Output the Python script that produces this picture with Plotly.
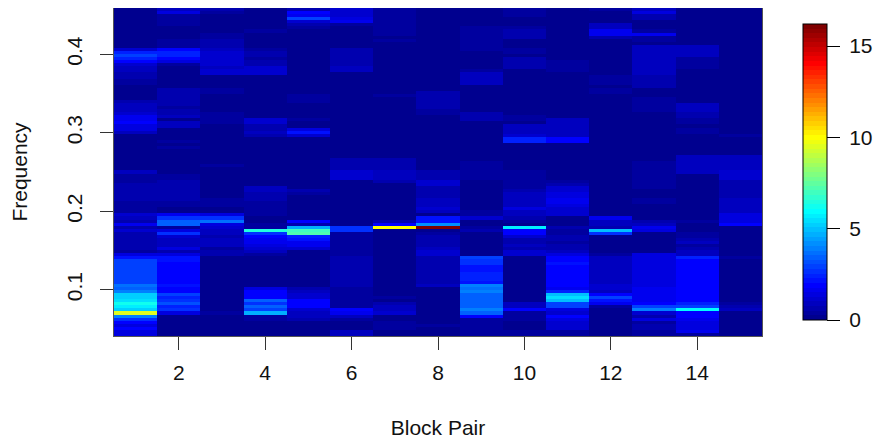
import plotly.graph_objects as go

block_pairs = list(range(1, 16))
freq_bins = list(range(11, 118))
x_ticks = [2, 4, 6, 8, 10, 12, 14]
y_ticks = [0.1, 0.2, 0.3, 0.4]
bar_ticks = [0, 5, 10, 15]
bar_max = 16.2

tim_colors = ["#00008F","#00009F","#0000AF","#0000BF","#0000CF","#0000DF","#0000EF","#0000FF",
"#0010FF","#0020FF","#0030FF","#0040FF","#0050FF","#0060FF","#0070FF","#0080FF",
"#008FFF","#009FFF","#00AFFF","#00BFFF","#00CFFF","#00DFFF","#00EFFF","#00FFFF",
"#10FFEF","#20FFDF","#30FFCF","#40FFBF","#50FFAF","#60FF9F","#70FF8F","#80FF80",
"#8FFF70","#9FFF60","#AFFF50","#BFFF40","#CFFF30","#DFFF20","#EFFF10","#FFFF00",
"#FFEF00","#FFDF00","#FFCF00","#FFBF00","#FFAF00","#FF9F00","#FF8F00","#FF8000",
"#FF7000","#FF6000","#FF5000","#FF4000","#FF3000","#FF2000","#FF1000","#FF0000",
"#EF0000","#DF0000","#CF0000","#BF0000","#AF0000","#9F0000","#8F0000","#800000"]

# "low" lists run upward from the lowest frequency; "high" lists run downward from the highest.
col01_low = [1.3,1.3,1.9,1.4,1.9,2.7,3.8,9.6,5.2,5.8,
             6.2,5.5,5.2,5.2,4.0,3.5,3.7,3.0,3.0,3.0,
             3.0,3.0,3.0,3.0,3.0,2.2,1.3,.4,.6,.6,
             .6,.6,.6,.6,1.2,.6,1.7,.6,.9,1.1,
             .4,.3,.3,.3,.6,.6,.6,.6,.6,.6,
             .4,.4,.4,.9]
col01_high = [.13,.13,.13,.13,.13,.13,.13,.13,.13,.13,
              .13,.13,.2,1.2,2.4,2.9,2.4,1.8,1.2,.9,
              .8,.6,.6,.5,.5,.2,.2,.2,.2,.2,
              .6,.9,.9,.9,1.1,1.6,1.6,1.9,1.3,1.3,
              .9,.2,.2,.2,.2,.2,.2,.2,.2,.2,
              .2,.2,.2]
col02_low = [.13,.13,.13,.13,.13,.13,.13,1.4,2.7,2.4,
             3.1,2.7,2.4,2.9,1.9,1.9,2.1,1.9,1.9,1.9,
             1.9,1.9,1.9,1.9,2.1,2.1,1.4,.6,1.4,.9,
             .9,.9,1.1,2.6,1.4,.4,3.5,3.5,2.7,1.7,
             .13,.13,.3,.3,.7,.7,.7,.7,.7,.6,
             .6,.4,.4,.13]
col02_high = [.9,1.3,.3,.4,.4,.4,.13,.13,.13,.13,
              .5,.5,.5,2.0,2.4,2.4,1.9,1.4,.38,.2,
              .2,.2,.2,.2,.2,.2,.7,.7,.7,.6,
              .6,.6,.4,.7,.7,.8,.13,.8,.8,.13,
              .13,.13,.13,.4,.13,.4,.13,.13,.13,.13,
              .13,.13,.13]
col03_low = [.13,.13,.13,.13,.13,.13,.13,.5,.13,.13,
             .13,.13,.13,.13,.13,.13,.13,.13,.13,.13,
             .13,.13,.13,.13,.13,.13,.6,.7,.5,.9,
             .9,.9,.6,.9,.9,1.2,1.5,3.7,2.6,1.3,
             .2,.13,.3,.3,.3,.13,.13,.13,.13,.13,
             .13,.13,.13,.13]
col03_high = [.6,.4,.13,.13,.13,.13,.13,.13,.5,.5,
              .6,.6,.6,.8,1.1,1.1,1.1,1.1,1.1,1.0,
              1.2,1.2,.13,.13,.13,.13,.5,.5,.13,.13,
              .13,.13,.13,.13,.4,.4,.4,.4,.13,.13,
              .13,.13,.13,.13,.13,.13,.13,.13,.13,.13,
              .13,.3,.13]
col04_low = [.13,.13,.13,.13,.13,.4,.4,4.6,3.0,3.4,
             2.7,3.5,1.9,1.9,1.8,1.4,.13,.13,.13,.13,
             .13,.13,.13,.13,.13,.13,.4,.9,1.1,1.5,
             1.7,1.7,1.9,2.7,6.5,.4,.4,.13,.13,.5,
             .5,.5,.5,.3,.6,.6,.6,.9,.9,.13,
             .13,.13,.13,.13]
col04_high = [.13,.13,.13,.13,.13,.13,.13,.3,.13,.13,
              .13,.13,.13,.3,.6,.6,.4,.7,.7,1.2,
              1.2,1.2,.13,.13,.13,.13,.13,.13,.13,.13,
              .13,.13,.13,.13,.13,.13,1.1,1.1,.7,.7,
              .9,.7,.13,.13,.13,.13,.13,.13,.13,.13,
              .13,.13,.13]
col05_low = [.13,.13,.13,.13,.13,.6,.9,.9,1.2,1.9,
             2.0,1.9,1.2,1.2,1.0,.6,.13,.13,.13,.13,
             .13,.13,.13,.13,.13,.13,.13,.2,1.2,1.6,
             1.7,2.1,2.4,7.3,7.0,4.7,.6,1.9,.13,.13,
             .13,.13,.13,.13,.13,.13,.4,.6,.13,.13,
             .13,.13,.13,.13]
col05_high = [.6,1.9,1.6,2.9,1.2,.7,.4,.13,.13,.13,
              .13,.13,.13,.13,.13,.13,.13,.13,.13,.13,
              .13,.13,.13,.13,.13,.13,.13,.13,.4,.4,
              .4,.13,.13,.13,.13,.13,.3,.13,.13,1.3,
              2.2,1.2,.13,.13,.13,.13,.13,.13,.13,.13,
              .13,.13,.13]
col06_low = [.9,.9,.2,.2,.2,.4,.9,1.6,2.0,.3,
             .5,.5,.5,.5,.5,.3,.6,.6,.6,.6,
             .6,.6,.6,.6,.6,.6,.5,.5,.5,.5,
             .5,.5,.5,.5,2.7,2.7,.13,.13,.13,.13,
             .13,.13,.13,.13,.13,.13,.13,.13,.13,.13,
             .13,1.1,1.1,1.1]
col06_high = [1.2,1.2,1.1,1.4,1.6,.3,.13,.13,.13,.13,
              .13,.13,.13,.6,.6,.6,.6,.6,.6,.8,
              .8,.13,.13,.13,.13,.13,.13,.13,.13,.13,
              .13,.13,.13,.13,.13,.13,.13,.13,.13,.13,
              .13,.13,.13,.13,.13,.13,.13,.13,.13,.7,
              .7,.6,.6]
col07_low = [.13,.2,.4,.5,.5,.13,.2,1.2,.9,.9,
             .6,.13,.3,.13,.2,.2,.2,.2,.2,.2,
             .2,.2,.2,.2,.2,.2,.2,.2,.13,.13,
             .13,.13,.13,.13,.13,10.0,1.9,.7,.13,.13,
             .13,.13,.13,.13,.13,.13,.13,.13,.13,.13,
             .7,.8,.8,.9]
col07_high = [.4,.4,.4,.4,.4,.4,.5,.5,.5,.13,
              .38,.13,.13,.13,.13,.13,.13,.13,.13,.13,
              .13,.13,.13,.13,.13,.13,.13,.13,.38,.13,
              .13,.13,.13,.13,.13,.13,.13,.13,.13,.13,
              .13,.13,.13,.13,.13,.13,.13,.13,.13,.7,
              .7,.7,.7]
col08_low = [.13,.13,.13,.3,.13,.13,.13,.13,.13,.13,
             .13,.13,.13,.13,.13,.13,1.0,.7,.7,.7,
             .7,.7,.7,.7,.7,.7,1.1,1.1,.9,.6,
             .6,.6,.6,.3,.13,16.1,4.3,2.2,2.2,.13,
             .9,1.1,.9,.9,.9,.6,.6,.6,.6,1.2,
             1.2,.6,.6,.6]
col08_high = [.13,.13,.13,.13,.13,.13,.13,.13,.13,.13,
              .13,.13,.13,.13,.13,.13,.13,.13,.13,.13,
              .13,.13,.13,.13,.13,.13,.13,.7,.7,.7,
              .6,.6,.6,.5,.4,.13,.13,.13,.13,.13,
              .13,.13,.13,.13,.13,.13,.13,.13,.13,.13,
              .13,.13,.13]
col09_low = [.5,.5,.5,.5,.5,.5,1.8,3.5,4.0,3.5,
             3.5,3.5,3.5,3.5,3.9,3.6,3.9,2.2,2.4,2.4,
             2.4,2.1,2.2,2.6,2.6,2.9,.13,.13,.13,.13,
             .13,.13,.13,.13,.7,.3,.13,.13,1.2,.5,
             .5,.13,.13,.13,.13,.13,.13,.13,.13,.13,
             .13,.4,.4,.4]
col09_high = [.13,.13,.13,.13,.13,.13,.5,.5,.5,.4,
              .4,.4,.4,.4,.13,.13,.13,.13,.13,.13,
              .5,.8,.8,.8,.8,.13,.13,.13,.13,.13,
              .13,.13,.13,.13,.6,.6,.6,.13,.13,.13,
              .13,.13,.13,.13,.13,.13,.13,.13,.13,.13,
              .5,.4,.4]
col10_low = [.4,.4,.13,.13,.13,.3,.3,.38,1.9,1.0,
             1.0,.13,.13,.13,.13,.13,.13,.13,.13,.13,
             .13,.13,.13,.13,.13,.13,1.1,1.1,.6,.9,
             .6,.6,1.1,1.8,1.8,5.6,.13,.38,.6,.9,
             .9,1.5,.9,.9,.9,.9,.9,.6,.5,.5,
             .4,.4,.4,.5]
col10_high = [.5,.5,.5,.13,.13,.13,.4,.7,.7,.7,
              .2,.2,.2,.5,.5,.13,.6,.6,.6,.6,
              .13,.13,.13,.13,.13,.13,.13,.13,.13,.13,
              .13,.13,.13,.13,.13,.3,.3,.13,.9,.9,
              .9,1.2,2.5,2.5,.13,.13,.13,.13,.13,.13,
              .13,.13,.13]
col11_low = [.38,.38,1.1,1.1,1.1,1.4,1.9,1.2,1.4,3.0,
             3.0,5.0,5.4,5.0,2.4,1.6,1.9,1.9,1.9,1.9,
             1.9,1.9,1.9,2.1,1.9,1.9,1.3,.9,.6,.6,
             .4,.6,.6,.4,.38,.6,.13,.13,.13,1.1,
             1.1,1.1,1.4,1.7,1.7,1.4,1.4,1.1,1.1,.7,
             .4,.13,.13,.13]
col11_high = [.13,.13,.13,.13,.13,.13,.13,.13,.13,.13,
              .13,.13,.13,.13,.13,.13,.13,.4,.4,.38,
              .38,.13,.13,.13,.13,.13,.13,.13,.13,.13,
              .13,.13,.13,.13,.13,.13,.9,.9,.9,.9,
              .8,.8,1.9,1.9,.13,.13,.13,.13,.13,.13,
              .13,.13,.13]
col12_low = [.13,.13,.13,.13,.13,.13,.13,.13,.13,.4,
             1.6,2.1,2.8,1.9,.9,1.2,1.2,.9,1.0,1.0,
             1.0,1.0,1.0,1.0,1.0,1.0,.5,.13,.13,.13,
             .13,.13,.13,2.7,5.0,.7,.8,.9,1.7,.13,
             .13,.13,.13,.13,.13,.13,.13,.13,.13,.13,
             .13,.13,.13,.13]
col12_high = [.4,.13,.13,.13,.13,.8,.8,1.6,1.6,.6,
              .13,.13,.13,.13,.13,.13,.13,.13,.13,.13,
              .13,.13,.5,.5,.5,.13,.4,.4,.13,.13,
              .13,.13,.13,.13,.13,.13,.13,.13,.13,.13,
              .13,.13,.13,.13,.13,.13,.13,.13,.13,.13,
              .13,.13,.13]
col13_low = [.38,.38,.6,.6,.5,1.5,.6,1.2,4.0,3.0,
             1.9,1.6,1.6,1.6,1.6,1.6,1.5,1.5,1.3,1.3,
             1.3,1.3,1.3,1.3,1.3,1.4,1.4,.13,.13,.13,
             .13,.13,.13,.13,1.3,1.6,1.0,.7,.13,.13,
             .13,.13,.13,.4,.4,.13,.13,.13,.4,.4,
             .4,.5,.5,.5]
col13_high = [.9,1.3,.6,.6,.2,.2,.2,.4,1.7,.5,
              .5,.13,1.0,1.0,1.0,1.0,.9,1.0,1.0,1.0,
              1.0,1.0,.7,.7,.7,.7,.13,.13,.13,.5,
              .5,.5,.4,.4,.13,.13,.13,.13,.13,.13,
              .13,.13,.13,.13,.13,.13,.13,.13,.13,.13,
              .3,.5,.5]
col14_low = [.4,1.7,1.5,1.5,1.5,1.7,2.0,2.0,5.9,3.0,
             2.5,2.0,2.0,2.0,1.8,1.9,1.9,1.9,1.9,1.9,
             1.9,1.9,1.9,2.0,2.0,2.4,.9,.9,.6,.3,
             .9,.6,.5,.5,.13,.13,.13,.5,.13,.13,
             .13,.13,.13,.13,.13,.13,.13,.13,.13,.13,
             .13,.13,.13,.8]
col14_high = [.13,.13,.13,.13,.13,.13,.13,.13,.13,.13,
              .13,.13,.9,.9,.9,.9,.4,.4,.4,.4,
              .13,.13,.13,.13,.13,.13,.13,.13,.13,.13,
              .13,.9,.9,.9,.6,.6,.4,.4,.13,.4,
              .4,.13,.13,.13,.13,.13,.13,.13,.8,.8,
              .8,.8,.8]
col15_low = [.13,.13,.13,.13,.13,.13,.13,.13,.8,.7,
             .5,.13,.2,.2,.2,.2,.2,.2,.2,.2,
             .2,.2,.2,.2,.2,.4,.13,.13,.13,.13,
             .13,.13,.13,.13,.13,.13,2.0,1.4,1.4,1.4,
             1.0,1.0,.8,.8,.8,.7,.7,.7,.7,.7,
             .7,1.1,1.1,1.1]
col15_high = [.13,.13,.13,.13,.13,.13,.13,.13,.13,.13,
              .13,.13,.13,.13,.13,.13,.13,.13,.13,.13,
              .13,.13,.13,.13,.13,.13,.13,.13,.13,.13,
              .13,.13,.13,.13,.13,.13,.13,.13,.13,.13,
              .13,.4,.13,.13,.13,.13,.13,.13,.9,.9,
              .9,.9,.9]

columns = [
    col01_low + col01_high[::-1], col02_low + col02_high[::-1], col03_low + col03_high[::-1],
    col04_low + col04_high[::-1], col05_low + col05_high[::-1], col06_low + col06_high[::-1],
    col07_low + col07_high[::-1], col08_low + col08_high[::-1], col09_low + col09_high[::-1],
    col10_low + col10_high[::-1], col11_low + col11_high[::-1], col12_low + col12_high[::-1],
    col13_low + col13_high[::-1], col14_low + col14_high[::-1], col15_low + col15_high[::-1],
]
for c in columns:
    assert len(c) == len(freq_bins), len(c)

z = [[columns[j][i] for j in range(len(block_pairs))] for i in range(len(freq_bins))]
freqs = [k / 256 for k in freq_bins]

n = len(tim_colors)
scale = []
for i, col in enumerate(tim_colors):
    scale.append([i / n, col])
    scale.append([(i + 1) / n, col])

FONT = "Liberation Sans, Arial, sans-serif"
fig = go.Figure(go.Heatmap(
    x=block_pairs, y=freqs, z=z, zmin=0, zmax=bar_max, colorscale=scale, zsmooth=False,
    colorbar=dict(
        lenmode="pixels", len=296, thicknessmode="pixels", thickness=24,
        x=1.063, xanchor="left", xpad=0, y=0.951, yanchor="top", ypad=0,
        outlinecolor="black", outlinewidth=1, tickvals=bar_ticks, ticks="outside",
        ticklen=13, tickcolor="black", tickwidth=1, tickfont=dict(family=FONT, size=21, color="#111"),
        ticklabelposition="outside",
    ),
))
fig.update_layout(
    width=873, height=433, autosize=False, paper_bgcolor="white", plot_bgcolor="white",
    margin=dict(l=106, r=119, t=0, b=105, pad=0),
    font=dict(family=FONT, size=21, color="#111"),
    xaxis=dict(range=[0.5, 15.5], tickvals=x_ticks, ticks="outside", ticklen=13, tickcolor="#333",
               showline=True, mirror=True, linecolor="#555", linewidth=1, showgrid=False, zeroline=False,
               ticklabelstandoff=5, tickfont=dict(size=21),
               title=dict(text="Block Pair", standoff=37, font=dict(size=21))),
    yaxis=dict(range=[10.5 / 256, 117.5 / 256], tickvals=y_ticks, ticks="outside", ticklen=13, tickcolor="#333",
               tickangle=-90, showline=True, mirror=True, linecolor="#555", linewidth=1, showgrid=False,
               zeroline=False, ticklabelstandoff=10, tickformat=".1f", tickfont=dict(size=21),
               title=dict(text="Frequency", standoff=30, font=dict(size=21))),
)
fig.write_html(
    "out.html",
    config={"displayModeBar": False},
    post_script="document.querySelectorAll('.colorbar .cbaxis text').forEach(function(t){t.setAttribute('dx','5');});",
)
